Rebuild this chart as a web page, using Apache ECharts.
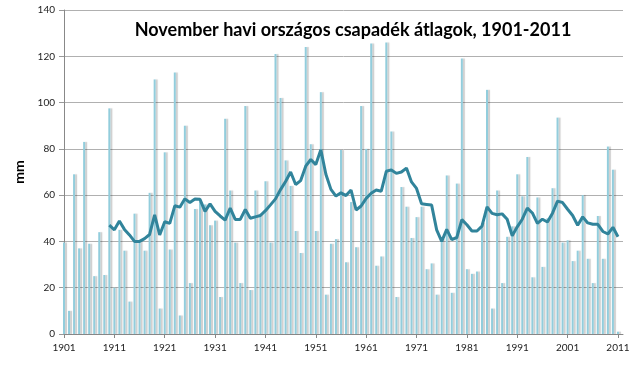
<!DOCTYPE html>
<html>
<head>
<meta charset="utf-8">
<script src="https://cdn.jsdelivr.net/npm/echarts@6/dist/echarts.min.js"></script>
<style>html,body{margin:0;padding:0;background:#fff}#c{width:640px;height:368px}</style>
</head>
<body>
<div id="c"></div>
<script>
// Years 1901-2011
const years = [];
for (let y = 1901; y <= 2011; y++) years.push(String(y));

// November precipitation, mm (1901-2011)
const rainfall = [
  39.5, 10, 69, 37, 83, 39, 25, 44, 25.5, 97.5,
  20, 45, 36, 14, 52, 40, 36, 61, 110, 11,
  78.5, 36.5, 113, 8, 90, 22, 54, 57, 56, 47,
  49, 16, 93, 62, 39.5, 22, 98.5, 19, 62, 52,
  66, 39.5, 121, 102, 75, 64, 44.5, 35, 124, 82,
  44.5, 104.5, 17, 39, 41, 79.5, 31, 57, 37.5, 98.5,
  80, 125.5, 29.5, 33.5, 126, 87.5, 16, 63.5, 55, 41.5,
  50.5, 55, 28, 30.5, 17, 41, 68.5, 17.8, 65, 119,
  28, 26, 27, 48, 105.5, 11, 62, 22, 42, 46.5,
  69, 59.5, 76.5, 24.5, 59, 29, 50, 63, 93.5, 39.5,
  40.5, 31.5, 36, 60, 32.5, 22, 51, 32.5, 81, 71,
  1
];

// 10-year moving average line as drawn, 1910-2011
const maStartYear = 1910;
const movingAvg = [
  47, 45, 48.8, 45.2, 42.8, 40, 40, 41.2, 43, 51.5,
  42.8, 48.5, 47.8, 55.4, 54.8, 58.4, 56.8, 58.3, 58.2, 53,
  56.2, 53, 51, 49.2, 54.4, 49.5, 49.5, 53.8, 50, 50.6,
  51.2, 53.3, 55.8, 58.4, 62.4, 65.9, 70, 64.6, 66.3, 72.5,
  75.4, 73.2, 79.6, 69, 62.5, 59.6, 61, 59.8, 62.2, 53.6,
  55.3, 58.6, 60.8, 62.2, 61.7, 70.3, 70.9, 69.4, 70, 71.7,
  65.7, 62.9, 56.3, 56, 55.7, 45, 40, 45.2, 40.8, 41.7,
  49.4, 47.2, 44.5, 44.5, 46.6, 54.9, 52.1, 51.5, 51.9, 49.6,
  42.4, 46.3, 49.6, 54.4, 52.3, 47.8, 49.6, 48.4, 52.2, 57.4,
  56.8, 53.9, 51.2, 47, 50.6, 48, 47.4, 47.4, 44.3, 43.2,
  46.1, 42
];

const yTicks = [0, 20, 40, 60, 80, 100, 120, 140];
const titleText = 'November havi országos csapadék átlagok, 1901-2011';

const lineData = years.map(y => {
  const i = Number(y) - maStartYear;
  return i >= 0 ? movingAvg[i] : null;
});

const chart = echarts.init(document.getElementById('c'), null, {renderer: 'canvas'});
chart.setOption({
  animation: false,
  backgroundColor: '#ffffff',
  title: {
    text: titleText,
    left: 348,
    top: 16,
    textAlign: 'center',
    textStyle: {fontFamily: 'Lato', fontWeight: 'bold', fontSize: 18, color: '#000'}
  },
  grid: {left: 64, right: 17, top: 10, bottom: 34, containLabel: false},
  xAxis: {
    type: 'category',
    data: years,
    boundaryGap: false,
    max: years.length,
    axisLine: {lineStyle: {color: '#888', width: 1}},
    axisTick: {show: true, interval: 9, length: 4, lineStyle: {color: '#888'}},
    axisLabel: {interval: 9, fontFamily: 'Lato', fontSize: 10, color: '#222', margin: 9},
    splitLine: {show: false}
  },
  yAxis: {
    type: 'value',
    min: yTicks[0],
    max: yTicks[yTicks.length - 1],
    interval: 20,
    name: 'mm',
    nameLocation: 'middle',
    nameRotate: 90,
    nameGap: 37,
    nameTextStyle: {fontFamily: 'Lato', fontWeight: 'bold', fontSize: 14, color: '#000'},
    axisLine: {show: true, lineStyle: {color: '#888'}},
    axisTick: {show: true, length: 5, lineStyle: {color: '#999'}},
    axisLabel: {fontFamily: 'Lato', fontSize: 10, color: '#222', margin: 9},
    splitLine: {lineStyle: {color: '#b0b0b0', width: 1}}
  },
  series: [
    {
      type: 'bar',
      data: rainfall,
      barWidth: 2,
      clip: false,
      itemStyle: {
        color: '#92cddc',
        shadowColor: 'rgba(0,0,0,0.2)',
        shadowOffsetX: 2,
        shadowOffsetY: 0,
        shadowBlur: 1
      }
    },
    {
      type: 'line',
      data: lineData,
      showSymbol: false,
      symbol: 'none',
      connectNulls: false,
      lineStyle: {color: '#31849b', width: 3},
      z: 5
    }
  ]
});
</script>
</body>
</html>
